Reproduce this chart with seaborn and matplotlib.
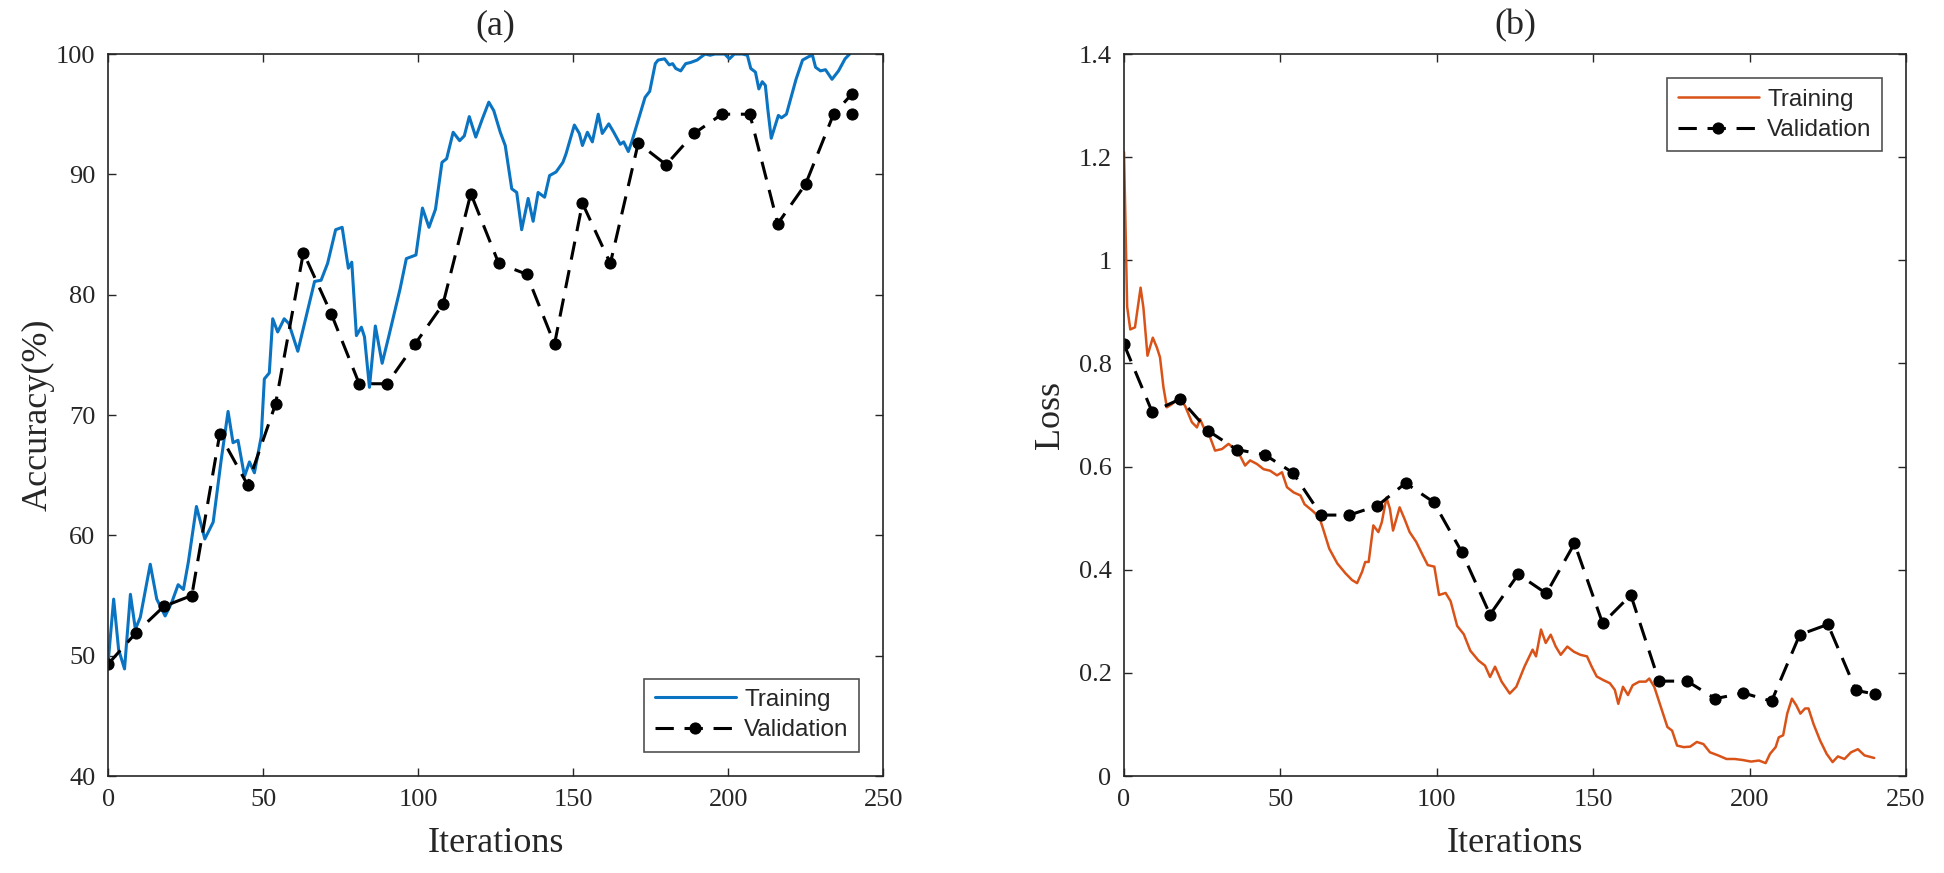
import numpy as np
import pandas as pd
import seaborn as sns
import matplotlib.pyplot as plt
from matplotlib.ticker import FormatStrFormatter

sns.set_style("ticks")
plt.rcParams["font.family"] = ["Liberation Serif", "DejaVu Serif"]

# ---- (a) accuracy ----
acc_train_iter = [0, 1.8, 3.4, 5.3, 7.2, 8.8, 10.4, 13.6, 15.7, 18.4, 20.5, 22.6, 24.3, 25.9,
                  28.5, 31.2, 33.9, 36.5, 38.7, 40.3, 41.9, 44.0, 45.6, 47.2, 49.4, 50.4, 52.0,
                  53.1, 54.7, 56.8, 58.3, 61.2, 66.6, 68.7, 70.8, 73.4, 75.5, 77.5, 78.6, 80.1,
                  81.7, 82.7, 84.3, 86.2, 88.4, 90.5, 94.2, 96.2, 99.3, 101.4, 103.5, 105.6,
                  107.7, 109.2, 111.3, 113.4, 114.9, 116.5, 118.6, 120.7, 122.8, 124.4, 126.5,
                  128.1, 130.2, 131.8, 133.4, 135.5, 137.1, 138.7, 140.8, 142.4, 144.5, 146.7,
                  147.7, 150.4, 152.0, 153.0, 154.6, 156.2, 158.1, 159.4, 161.5, 163.1, 165.2,
                  166.3, 167.8, 168.9, 171.0, 173.2, 174.7, 176.5, 177.4, 179.5, 181.0, 182.1,
                  183.1, 184.7, 186.3, 187.9, 190.0, 191.5, 192.6, 194.2, 195.7, 197.3, 198.9,
                  200.4, 202.0, 204.6, 206.2, 207.3, 208.8, 209.9, 211.0, 212.0, 212.8, 213.9,
                  215.1, 216.2, 217.2, 218.8, 220.4, 221.9, 224.0, 226.1, 227.2, 228.2, 229.8,
                  231.4, 233.5, 235.6, 237.7, 239.2]
acc_train = [49.4, 54.7, 50.5, 48.9, 55.1, 52.2, 53.2, 57.6, 54.7, 53.3, 54.4, 55.9, 55.5, 57.8,
             62.4, 59.7, 61.1, 66.3, 70.3, 67.7, 67.9, 64.9, 66.1, 65.2, 68.2, 73.0, 73.5,
             78.0, 76.9, 78.0, 77.6, 75.3, 81.1, 81.2, 82.6, 85.4, 85.6, 82.2, 82.7, 76.6,
             77.3, 76.5, 72.3, 77.4, 74.3, 76.5, 80.5, 83.0, 83.3, 87.2, 85.6, 87.1,
             91.0, 91.3, 93.5, 92.8, 93.2, 94.8, 93.1, 94.6, 96.0, 95.3, 93.5,
             92.4, 88.8, 88.5, 85.4, 88.0, 86.1, 88.5, 88.1, 89.9, 90.2, 91.0,
             91.7, 94.1, 93.4, 92.4, 93.5, 92.7, 95.0, 93.4, 94.2, 93.5, 92.5,
             92.7, 91.9, 92.7, 94.5, 96.4, 96.9, 99.2, 99.5, 99.6, 99.1, 99.2,
             98.8, 98.6, 99.2, 99.3, 99.5, 99.8, 100.0, 99.9, 100.0, 100.0, 100.0,
             99.6, 100.0, 100.0, 99.9, 98.8, 98.5, 97.1, 97.7, 97.4, 95.4, 93.0,
             94.0, 94.9, 94.7, 95.0, 96.5, 97.9, 99.5, 99.8, 99.9, 98.9, 98.6,
             98.7, 97.9, 98.6, 99.6, 100.0]

val_iter = [0, 9, 18, 27, 36, 45, 54, 63, 72, 81, 90, 99, 108, 117, 126, 135, 144, 153,
            162, 171, 180, 189, 198, 207, 216, 225, 234, 240]
acc_val_iter = val_iter + [240]
acc_val = [49.3, 51.9, 54.1, 55.0, 68.4, 64.2, 70.9, 83.5, 78.4, 72.6, 72.6, 75.9, 79.2, 88.4,
           82.6, 81.7, 75.9, 87.6, 82.6, 92.6, 90.8, 93.4, 95.0, 95.0, 85.9, 89.2, 95.0,
           96.7, 95.0]

# ---- (b) loss ----
loss_train_iter = [0, 1, 2, 3.5, 5.3, 6.2, 7.5, 9.2, 10.5, 11.5, 12.6, 13.7, 15.3, 17.4, 19.5,
                   21.7, 23.3, 24.3, 25.9, 27.5, 29.1, 31.3, 33.4, 35.5, 37.1, 38.7, 40.3,
                   42.5, 44.6, 46.7, 48.9, 50.5, 52.1, 54.2, 56.4, 57.7, 60.3, 62.4, 63.5,
                   65.6, 68.2, 70.8, 72.9, 74.5, 76.1, 77.1, 78.2, 79.7, 81.3, 82.4, 83.9,
                   85.0, 86.0, 88.1, 89.7, 91.3, 93.4, 95.5, 97.1, 99.2, 100.7, 102.8, 104.4,
                   106.5, 108.6, 110.7, 113.3, 115.4, 117.0, 118.6, 120.7, 123.3, 125.4, 128.0,
                   130.6, 131.7, 133.3, 134.8, 136.4, 138.0, 139.6, 141.7, 143.8, 145.9, 148.0,
                   149.5, 151.1, 153.2, 155.3, 156.9, 158.0, 159.5, 161.1, 162.6, 164.7, 166.8,
                   167.9, 169.5, 171.6, 173.7, 175.2, 176.8, 178.9, 181.0, 183.1, 185.2, 187.3,
                   189.9, 192.6, 195.2, 197.8, 200.4, 203.0, 205.1, 206.5, 208.3, 209.3, 210.7,
                   212.0, 213.5, 214.9, 216.2, 217.7, 218.8, 220.4, 222.5, 224.6, 226.5, 228.2,
                   230.3, 232.4, 234.6, 236.7, 239.8]
loss_train = [1.21, 0.91, 0.866, 0.870, 0.947, 0.908, 0.815, 0.850, 0.831, 0.812, 0.754, 0.715,
              0.721, 0.734, 0.718, 0.686, 0.676, 0.692, 0.670, 0.657, 0.631, 0.634, 0.644,
              0.634, 0.621, 0.602, 0.612, 0.605, 0.595, 0.592, 0.583, 0.589, 0.560, 0.550,
              0.544, 0.527, 0.514, 0.502, 0.482, 0.441, 0.412, 0.393, 0.380, 0.374, 0.396,
              0.415, 0.415, 0.486, 0.473, 0.492, 0.540, 0.518, 0.476, 0.521, 0.498, 0.473,
              0.454, 0.428, 0.409, 0.406, 0.351, 0.355, 0.339, 0.291, 0.275, 0.243, 0.224,
              0.214, 0.192, 0.212, 0.183, 0.160, 0.173, 0.212, 0.245, 0.232, 0.284, 0.258,
              0.274, 0.251, 0.235, 0.251, 0.241, 0.235, 0.232, 0.212, 0.193, 0.186, 0.180,
              0.167, 0.140, 0.173, 0.157, 0.176, 0.183, 0.183, 0.189, 0.173, 0.134, 0.095,
              0.088, 0.059, 0.056, 0.057, 0.066, 0.062, 0.046, 0.040, 0.033, 0.033, 0.031,
              0.028, 0.030, 0.025, 0.043, 0.056, 0.075, 0.079, 0.121, 0.150, 0.137, 0.121,
              0.131, 0.131, 0.101, 0.069, 0.043, 0.027, 0.038, 0.033, 0.046, 0.052, 0.040,
              0.035]
loss_val = [0.837, 0.706, 0.731, 0.669, 0.633, 0.623, 0.588, 0.506, 0.506, 0.524, 0.568, 0.531,
            0.434, 0.313, 0.391, 0.354, 0.451, 0.296, 0.351, 0.184, 0.184, 0.150, 0.161,
            0.145, 0.274, 0.294, 0.166, 0.159]

acc_tr_df = pd.DataFrame({"it": acc_train_iter, "v": acc_train})
acc_va_df = pd.DataFrame({"it": acc_val_iter, "v": acc_val})
loss_tr_df = pd.DataFrame({"it": loss_train_iter, "v": loss_train})
loss_va_df = pd.DataFrame({"it": val_iter, "v": loss_val})

fig = plt.figure(figsize=(19.44, 8.73), dpi=100)
ax1 = fig.add_axes([0.0556, 0.1111, 0.3987, 0.827])
ax2 = fig.add_axes([0.5782, 0.1111, 0.4023, 0.827])

val_kw = dict(color="black", linestyle=(0, (6, 3.5)), linewidth=2.2, marker="o",
              markersize=8, markeredgecolor="black", estimator=None, sort=False,
              label="Validation")

sns.lineplot(data=acc_tr_df, x="it", y="v", ax=ax1, color="#0a74c2", linewidth=2.2,
             estimator=None, sort=False, label="Training")
sns.lineplot(data=acc_va_df, x="it", y="v", ax=ax1, **val_kw)

sns.lineplot(data=loss_tr_df, x="it", y="v", ax=ax2, color="#D95319", linewidth=1.8,
             estimator=None, sort=False, label="Training")
sns.lineplot(data=loss_va_df, x="it", y="v", ax=ax2, **val_kw)

ax1.set_ylim(40, 100)
ax1.set_yticks(np.arange(40, 101, 10))
ax2.set_ylim(0, 1.4)
ax2.set_yticks(np.arange(0, 1.41, 0.2))
ax2.yaxis.set_major_formatter(FormatStrFormatter("%g"))

panels = [(ax1, "(a)", "Accuracy(%)", "lower right", 1),
          (ax2, "(b)", "Loss", "upper right", 8)]
for ax, title, ylab, loc, lpad in panels:
    ax.set_xlim(0, 250)
    ax.set_xticks(np.arange(0, 251, 50))
    ax.set_title(title, fontsize=26, pad=14)
    ax.set_xlabel("Iterations", fontsize=26, labelpad=12)
    ax.set_ylabel(ylab, fontsize=26, labelpad=lpad)
    ax.tick_params(direction="in", top=True, right=True, length=6, width=1,
                   labelsize=19, pad=9, colors="#262626")
    for s in ax.spines.values():
        s.set_color("#262626")
        s.set_linewidth(1.2)
    leg = ax.legend(loc=loc, borderaxespad=1.0, frameon=True,
                    fancybox=False, edgecolor="#262626", handlelength=3.35,
                    handletextpad=0.33, borderpad=0.42, labelspacing=0.35,
                    prop={"family": ["Liberation Sans", "DejaVu Sans"], "size": 17.5})
    leg.get_frame().set_linewidth(1.2)

fig.savefig("out.png", dpi=100)
